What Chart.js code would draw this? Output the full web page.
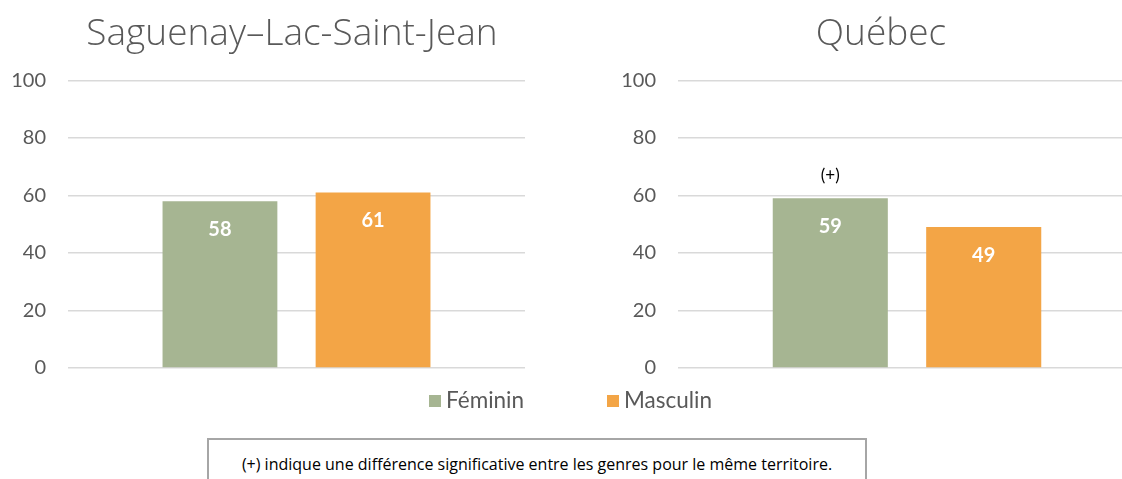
<!DOCTYPE html>
<html>
<head>
<meta charset="utf-8">
<script src="https://cdn.jsdelivr.net/npm/chart.js@4"></script>
<style>
    html, body {
        margin: 0;
        padding: 0;
        width: 1122px;
        height: 479px;
        overflow: hidden;
        background: #ffffff;
        font-family: Lato, "Open Sans", sans-serif;
    }

    #wrapLeft {
        position: absolute;
        left: 0;
        top: 0;
        width: 584px;
        height: 402px;
    }

    #wrapRight {
        position: absolute;
        left: 560px;
        top: 0;
        width: 642px;
        height: 402px;
    }

    #legend {
        position: absolute;
        top: 386px;
        left: 0;
        width: 1122px;
        height: 28px;
        font-size: 22.5px;
        color: #595959;
    }

    .item {
        position: absolute;
        top: 0;
        line-height: 28px;
    }

    .swatch {
        display: inline-block;
        width: 12px;
        height: 12px;
        margin-right: 5px;
        vertical-align: 1px;
    }

    #note {
        position: absolute;
        left: 207px;
        top: 438px;
        width: 660px;
        height: 60px;
        border: 2px solid #a6a6a6;
        box-sizing: border-box;
        text-align: center;
        font-family: "Open Sans", sans-serif;
        font-size: 16px;
        color: #000000;
        padding-top: 13px;
    }
</style>
</head>
<body>

<div id="wrapLeft"><canvas id="chartLeft"></canvas></div>
<div id="wrapRight"><canvas id="chartRight"></canvas></div>

<div id="legend">
    <div class="item" style="left:429px"><span class="swatch" style="background:#A6B592"></span>Féminin</div>
    <div class="item" style="left:607px"><span class="swatch" style="background:#F3A546"></span>Masculin</div>
</div>

<div id="note">(+) indique une différence significative entre les genres pour le même territoire.</div>

<script>

    // =========================================
    // DATA
    // =========================================

    var seriesNames = ["Féminin", "Masculin"];
    var seriesColors = ["#A6B592", "#F3A546"];

    var saguenayValues = [58, 61];
    var quebecValues = [59, 49];

    // significance marker above each bar ("" = none)
    var saguenayMarks = ["", ""];
    var quebecMarks = ["(+)", ""];

    var yTicks = [0, 20, 40, 60, 80, 100];

    // =========================================
    // LABELS PLUGIN
    // =========================================

    var barLabels = {
        id: "barLabels",

        // move the title block so it is centred where the original was
        afterLayout: function (chart, args, opts) {
            if (chart.titleBlock) {
                chart.titleBlock.left = opts.titleX - 250;
                chart.titleBlock.right = opts.titleX + 250;
            }
        },

        afterDatasetsDraw: function (chart, args, opts) {

            var ctx = chart.ctx;

            chart.data.datasets.forEach(function (ds, i) {

                var bar = chart.getDatasetMeta(i).data[0];

                ctx.save();
                ctx.textAlign = "center";
                ctx.textBaseline = "middle";

                ctx.fillStyle = "#ffffff";
                ctx.font = "bold 20px Lato, 'Open Sans', sans-serif";
                ctx.fillText(String(ds.data[0]), bar.x, bar.y + 28);

                if (opts.marks[i]) {
                    ctx.fillStyle = "#000000";
                    ctx.font = "17px Lato, 'Open Sans', sans-serif";
                    ctx.fillText(opts.marks[i], bar.x, bar.y - 23);
                }

                ctx.restore();
            });
        }
    };

    function makeChart(canvasId, title, values, marks, axisWidth, rightPad, titleX) {

        return new Chart(document.getElementById(canvasId), {

            type: "bar",

            data: {
                labels: [title],
                datasets: seriesNames.map(function (name, i) {
                    return {
                        label: name,
                        data: [values[i]],
                        backgroundColor: seriesColors[i],
                        barPercentage: 0.75,
                        categoryPercentage: 0.67
                    };
                })
            },

            options: {
                responsive: true,
                maintainAspectRatio: false,
                animation: false,

                layout: {
                    padding: { top: 0, right: rightPad, bottom: 12, left: 0 }
                },

                plugins: {
                    legend: { display: false },
                    tooltip: { enabled: false },
                    title: {
                        display: true,
                        text: title,
                        color: "#595959",
                        font: { family: "'Open Sans', sans-serif", size: 37, weight: 300 },
                        padding: { top: 12, bottom: 24 }
                    },
                    barLabels: { marks: marks, titleX: titleX }
                },

                scales: {
                    x: {
                        display: false,
                        grid: { display: false }
                    },
                    y: {
                        min: 0,
                        max: 100,
                        afterBuildTicks: function (scale) {
                            scale.ticks = yTicks.map(function (v) { return { value: v }; });
                        },
                        afterFit: function (scale) {
                            scale.width = axisWidth;
                        },
                        border: { display: false },
                        grid: {
                            color: "#d9d9d9",
                            lineWidth: 1.5,
                            drawTicks: false
                        },
                        ticks: {
                            padding: 22,
                            color: "#595959",
                            font: { family: "Lato, 'Open Sans', sans-serif", size: 20 }
                        }
                    }
                }
            },

            plugins: [barLabels]
        });
    }

    makeChart("chartLeft", "Saguenay\u2013Lac-Saint-Jean", saguenayValues, saguenayMarks, 68, 59, 292);
    makeChart("chartRight", "Québec", quebecValues, quebecMarks, 118, 66, 321);

</script>
</body>
</html>
